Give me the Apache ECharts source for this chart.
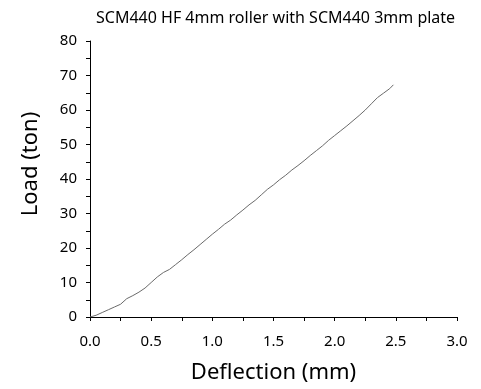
<!DOCTYPE html>
<html>
<head>
<meta charset="utf-8">
<script src="https://cdn.jsdelivr.net/npm/echarts@6/dist/echarts.min.js"></script>
<style>
  html, body {margin: 0; padding: 0; background: #fff;}
  #chart {width: 481px; height: 389px;}
</style>
</head>
<body>
<div id="chart"></div>
<script>
// 挠度 (mm)
var deflection = [0, 0.05, 0.10, 0.15, 0.20, 0.25, 0.30, 0.35, 0.40, 0.45,
  0.50, 0.55, 0.60, 0.65, 0.70, 0.75, 0.80, 0.85, 0.90, 0.95,
  1.00, 1.05, 1.10, 1.15, 1.20, 1.25, 1.30, 1.35, 1.40, 1.45,
  1.50, 1.55, 1.60, 1.65, 1.70, 1.75, 1.80, 1.85, 1.90, 1.95,
  2.00, 2.05, 2.10, 2.15, 2.20, 2.25, 2.30, 2.35, 2.40, 2.45, 2.48];
// 载荷 (ton)
var load = [0, 0.5, 1.3, 2.1, 2.9, 3.7, 5.3, 6.2, 7.2, 8.4,
  10.0, 11.6, 12.9, 13.8, 15.2, 16.6, 18.1, 19.5, 21.0, 22.5,
  24.0, 25.4, 26.9, 28.1, 29.6, 31.0, 32.5, 33.8, 35.4, 37.0,
  38.3, 39.8, 41.1, 42.6, 43.9, 45.3, 46.8, 48.2, 49.6, 51.2,
  52.6, 54.0, 55.4, 56.9, 58.4, 60.0, 61.8, 63.6, 64.9, 66.2, 67.3];

var titleText = 'SCM440 HF 4mm roller with SCM440 3mm plate';
var xName = 'Deflection (mm)';
var yName = 'Load (ton)';

var font = '"Noto Sans", "DejaVu Sans", sans-serif';
var textColor = '#000';

var points = deflection.map(function (d, i) { return [d, load[i]]; });

var chart = echarts.init(document.getElementById('chart'));

var axisCommon = {
  axisLine: {lineStyle: {color: '#000', width: 1}},
  axisTick: {inside: false, length: 4, lineStyle: {color: '#000'}},
  minorTick: {show: true, splitNumber: 2, length: 4, lineStyle: {color: '#000'}},
  splitLine: {show: false},
  axisLabel: {color: textColor, fontSize: 15, fontFamily: font}
};

chart.setOption({
  animation: false,
  backgroundColor: '#fff',
  title: {
    text: titleText,
    left: 91,
    top: 5,
    textStyle: {color: textColor, fontSize: 16, fontWeight: 'normal', fontFamily: font}
  },
  grid: {left: 90, right: 24, top: 41, bottom: 72},
  xAxis: echarts.util.merge({
    type: 'value',
    min: 0, max: 3, interval: 0.5,
    name: xName,
    nameLocation: 'middle',
    nameGap: 45,
    nameTextStyle: {color: textColor, fontSize: 22, fontFamily: font},
    axisLabel: {margin: 17, formatter: function (v) { return v.toFixed(1); }}
  }, axisCommon),
  yAxis: echarts.util.merge({
    type: 'value',
    min: 0, max: 80, interval: 10,
    name: yName,
    nameLocation: 'middle',
    nameGap: 48,
    nameTextStyle: {color: textColor, fontSize: 22, fontFamily: font, padding: [0, 0, 0, 30]},
    axisLabel: {margin: 13}
  }, axisCommon),
  series: [{
    type: 'line',
    data: points,
    showSymbol: false,
    lineStyle: {color: '#6a6a6a', width: 1}
  }]
});
</script>
</body>
</html>
